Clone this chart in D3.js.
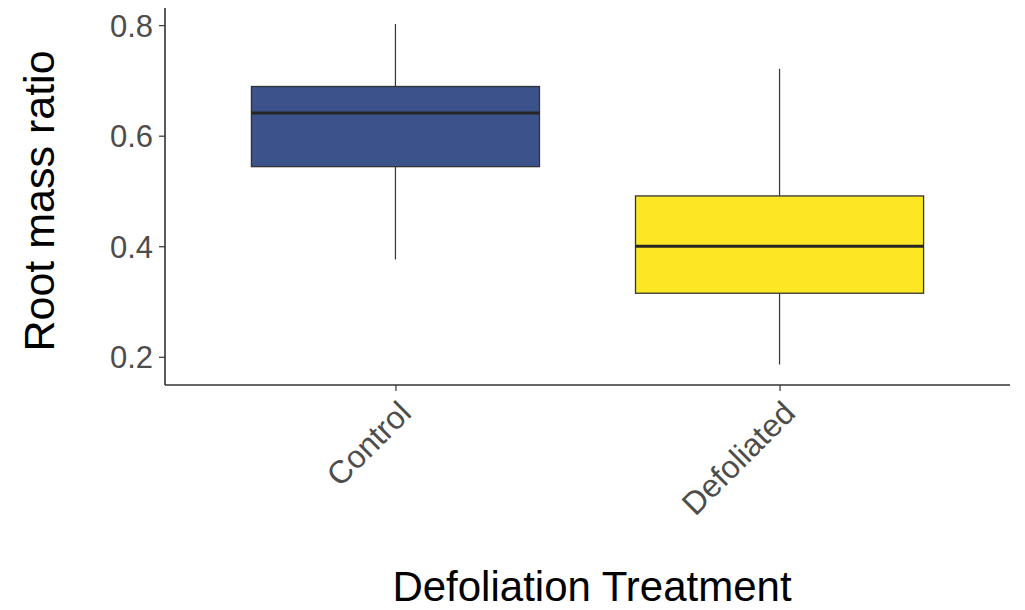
<!DOCTYPE html>
<html>
<head>
<meta charset="utf-8">
<script src="https://cdn.jsdelivr.net/npm/d3@7"></script>
<style>
  html, body { margin: 0; padding: 0; background: #fff; }
  svg { display: block; }
  text { font-family: "Liberation Sans", Arial, sans-serif; }
</style>
</head>
<body>
<svg id="chart" width="1025" height="610"></svg>
<script>
// Box-plot summaries for root mass ratio by treatment
const categories = ["Control", "Defoliated"];
const whiskerLow = [0.376, 0.186];
const q1 = [0.544, 0.315];
const median = [0.641, 0.400];
const q3 = [0.689, 0.491];
const whiskerHigh = [0.802, 0.721];
const fills = ["#3B528B", "#FDE725"];
const yTicks = [0.2, 0.4, 0.6, 0.8];

const svg = d3.select("#chart");
const plotLeft = 165, plotRight = 1010, plotTop = 8, plotBottom = 385;

const x = d3.scalePoint().domain(categories).range([plotLeft, plotRight]).padding(0.6);
const y = d3.scaleLinear().domain([0.149, 0.831]).range([plotBottom, plotTop]);
const boxW = x.step() * 0.75;

const data = categories.map((c, i) => ({
  c, lo: whiskerLow[i], q1: q1[i], med: median[i], q3: q3[i], hi: whiskerHigh[i], fill: fills[i]
}));

const g = svg.append("g");

// whiskers
g.selectAll("line.whisk-hi").data(data).join("line")
  .attr("x1", d => x(d.c)).attr("x2", d => x(d.c))
  .attr("y1", d => y(d.q3)).attr("y2", d => y(d.hi))
  .attr("stroke", "#333").attr("stroke-width", 1.2);
g.selectAll("line.whisk-lo").data(data).join("line")
  .attr("x1", d => x(d.c)).attr("x2", d => x(d.c))
  .attr("y1", d => y(d.q1)).attr("y2", d => y(d.lo))
  .attr("stroke", "#333").attr("stroke-width", 1.2);

// boxes
g.selectAll("rect.box").data(data).join("rect")
  .attr("x", d => x(d.c) - boxW / 2).attr("width", boxW)
  .attr("y", d => y(d.q3)).attr("height", d => y(d.q1) - y(d.q3))
  .attr("fill", d => d.fill).attr("stroke", "#333").attr("stroke-width", 1.3);

// medians
g.selectAll("line.med").data(data).join("line")
  .attr("x1", d => x(d.c) - boxW / 2).attr("x2", d => x(d.c) + boxW / 2)
  .attr("y1", d => y(d.med)).attr("y2", d => y(d.med))
  .attr("stroke", "#262626").attr("stroke-width", 3);

// y axis
const yAxis = svg.append("g").attr("transform", `translate(${plotLeft},0)`)
  .call(d3.axisLeft(y).tickValues(yTicks).tickSize(6).tickPadding(6).tickFormat(d3.format(".1f")));
yAxis.select(".domain").attr("d", `M0,${plotTop}V${plotBottom}`).attr("stroke", "#333").attr("stroke-width", 1.6);
yAxis.selectAll(".tick line").attr("stroke", "#333").attr("stroke-width", 1.2);
yAxis.selectAll(".tick text").attr("font-size", 31).attr("fill", "#4D4D4D").attr("dy", "0.36em");

// x axis
const xAxis = svg.append("g").attr("transform", `translate(0,${plotBottom})`)
  .call(d3.axisBottom(x).tickSize(6).tickSizeOuter(0));
xAxis.select(".domain").attr("d", `M${plotLeft},0H${plotRight}`).attr("stroke", "#333").attr("stroke-width", 1.6);
xAxis.selectAll(".tick line").attr("stroke", "#333").attr("stroke-width", 1.2);
xAxis.selectAll(".tick text")
  .attr("font-size", 32).attr("fill", "#4D4D4D")
  .attr("text-anchor", "end")
  .attr("transform", "translate(17,30) rotate(-45)")
  .attr("x", 0).attr("y", 0).attr("dy", 0);

// axis titles
svg.append("text")
  .attr("x", 592).attr("y", 601)
  .attr("text-anchor", "middle").attr("font-size", 42).attr("fill", "#000")
  .text("Defoliation Treatment");

svg.append("text")
  .attr("transform", "translate(54,201) rotate(-90)")
  .attr("text-anchor", "middle").attr("font-size", 43).attr("fill", "#000")
  .text("Root mass ratio");
</script>
</body>
</html>
